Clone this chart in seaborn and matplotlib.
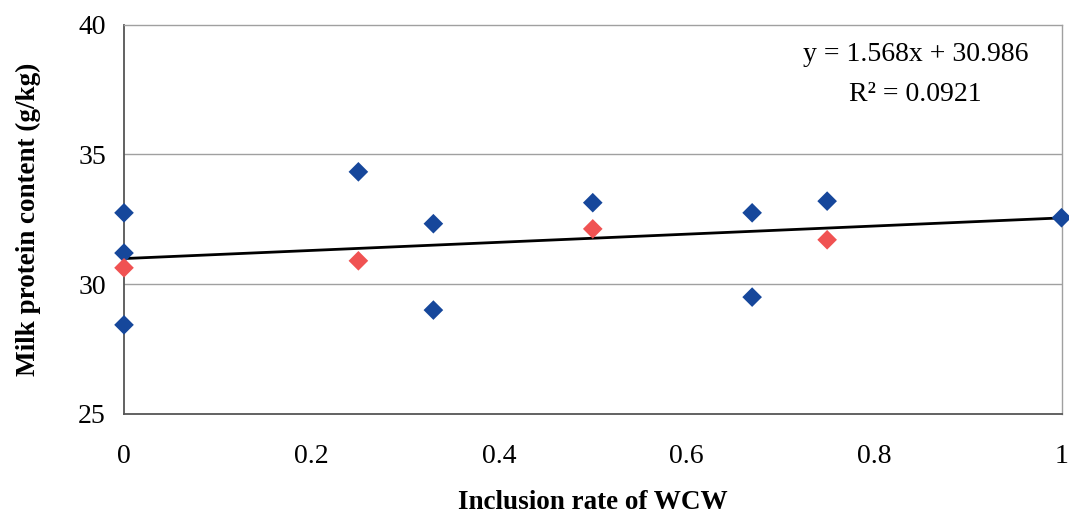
import matplotlib
matplotlib.use("Agg")
import matplotlib.pyplot as plt
import seaborn as sns
import numpy as np
import pandas as pd

# Individual trial observations (blue) and treatment means (red)
obs_rate = [0, 0, 0, 0.25, 0.33, 0.33, 0.5, 0.67, 0.67, 0.75, 1.0]
obs_protein = [32.75, 31.2, 28.43, 34.33, 32.33, 29.0, 33.14, 32.75, 29.5, 33.2, 32.56]
mean_rate = [0, 0.25, 0.5, 0.75]
mean_protein = [30.63, 30.9, 32.13, 31.71]

# Linear trend
slope = 1.568
intercept = 30.986
r_squared = 0.0921

x_ticks = [0, 0.2, 0.4, 0.6, 0.8, 1]
y_ticks = [25, 30, 35, 40]

sns.set_style("white")
plt.rcParams["font.family"] = ["Liberation Serif", "DejaVu Serif"]
plt.rcParams["text.color"] = "black"
plt.rcParams["axes.labelcolor"] = "black"
plt.rcParams["xtick.color"] = "black"
plt.rcParams["ytick.color"] = "black"

df = pd.DataFrame({
    "rate": obs_rate + mean_rate,
    "protein": obs_protein + mean_protein,
    "group": ["obs"] * len(obs_rate) + ["mean"] * len(mean_rate),
})

fig = plt.figure(figsize=(10.69, 5.16), dpi=100)
ax = fig.add_axes([0.116, 0.198, 0.877, 0.754])

for y in [30, 35]:
    ax.axhline(y, color="#a0a0a0", lw=1.0, zorder=0)

trend_x = np.array([0.0, 1.0])
sns.lineplot(x=trend_x, y=slope * trend_x + intercept, color="black",
             lw=2.0, ax=ax, zorder=2)

sns.scatterplot(data=df, x="rate", y="protein", hue="group",
                palette={"obs": "#16479b", "mean": "#f05252"},
                marker="D", s=100, edgecolor="none", legend=False,
                ax=ax, zorder=3, clip_on=False)

ax.set_xlim(0, 1)
ax.set_ylim(25, 40)
ax.set_xticks(x_ticks)
ax.set_xticklabels([f"{v:g}" for v in x_ticks])
ax.set_yticks(y_ticks)
ax.tick_params(axis="both", labelsize=20, length=7, width=1.0,
               color="#777777", direction="out")
ax.tick_params(axis="x", pad=15)
ax.tick_params(axis="y", pad=6)

for side in ["left", "bottom"]:
    ax.spines[side].set_color("#555555")
    ax.spines[side].set_linewidth(1.3)
for side in ["top", "right"]:
    ax.spines[side].set_color("#a0a0a0")
    ax.spines[side].set_linewidth(1.0)

ax.set_xlabel("Inclusion rate of WCW", fontsize=19.5, fontweight="bold", labelpad=15)
ax.set_ylabel("Milk protein content (g/kg)", fontsize=19.5, fontweight="bold", labelpad=27)

ax.text(0.844, 38.84, f"y = {slope}x + {intercept}", fontsize=20,
        ha="center", va="center")
ax.text(0.844, 37.3, f"R\u00b2 = {r_squared}", fontsize=20,
        ha="center", va="center")

fig.savefig("out.png", dpi=100, facecolor="white")
